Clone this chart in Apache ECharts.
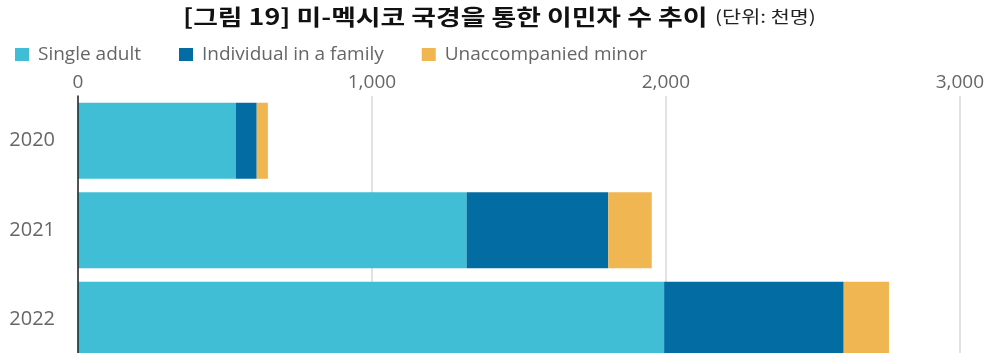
<!DOCTYPE html>
<html>
<head>
<meta charset="utf-8">
<script src="https://cdn.jsdelivr.net/npm/echarts@6/dist/echarts.min.js"></script>
<style>
  html, body { margin: 0; padding: 0; background: #fff; overflow: hidden; }
  /* the plot runs past the bottom edge of the window, so the canvas is taller than the view */
  #chart { width: 987px; height: 372px; }
</style>
</head>
<body>
<div id="chart"></div>
<script>
// Migrant encounters at the US-Mexico border, thousands
const years = ['2020', '2021', '2022'];
const singleAdult = [537, 1322, 1994];
const familyMember = [71, 482, 611];
const unaccompaniedMinor = [38, 148, 154];
const xTicks = [0, 1000, 2000, 3000];
const seriesNames = ['Single adult', 'Individual in a family', 'Unaccompanied minor'];

const chart = echarts.init(document.getElementById('chart'));

const labelFont = '"Open Sans", "Noto Sans", sans-serif';
const krFont = '"Noto Sans CJK KR", sans-serif';

chart.setOption({
  animation: false,
  backgroundColor: '#ffffff',
  graphic: [
    {
      // title, drawn a little wide like the printed figure caption
      type: 'text',
      x: 183,
      y: 6,
      scaleX: 1.22,
      style: {
        text: '{b|[그림 19] 미-멕시코 국경을 통한 이민자 수 추이} {n|(단위: 천명)}',
        rich: {
          b: { fontFamily: krFont, fontWeight: 'bold', fontSize: 22, fill: '#111' },
          n: { fontFamily: krFont, fontWeight: 'normal', fontSize: 17, fill: '#222', padding: [0, 0, 0, 3] }
        }
      }
    }
  ],
  legend: {
    left: 10,
    top: 40,
    itemWidth: 14,
    itemHeight: 13,
    itemGap: 38,
    icon: 'rect',
    textStyle: { fontFamily: labelFont, fontSize: 19, color: '#666', padding: [0, 0, 0, 4] },
    data: seriesNames
  },
  grid: {
    left: 78,
    right: 26,
    top: 96,
    height: 268.5
  },
  xAxis: {
    type: 'value',
    position: 'top',
    min: xTicks[0],
    max: xTicks[xTicks.length - 1],
    interval: 1000,
    axisLine: { show: false },
    axisTick: { show: false },
    splitLine: { show: true, lineStyle: { color: '#d9d9d9', width: 1.5 } },
    axisLabel: {
      margin: 4,
      fontFamily: labelFont,
      fontSize: 19,
      color: '#666',
      formatter: v => v.toLocaleString('en-US')
    }
  },
  yAxis: {
    type: 'category',
    data: years,
    inverse: true,
    z: 5,
    axisLine: { show: true, lineStyle: { color: '#222', width: 1.5 } },
    axisTick: { show: false },
    axisLabel: {
      margin: 23,
      fontFamily: labelFont,
      fontSize: 20,
      color: '#666'
    }
  },
  series: [
    {
      name: seriesNames[0], type: 'bar', stack: 'total',
      barCategoryGap: '15%',
      itemStyle: { color: '#3fbed5' },
      data: singleAdult
    },
    {
      name: seriesNames[1], type: 'bar', stack: 'total',
      itemStyle: { color: '#036ca3' },
      data: familyMember
    },
    {
      name: seriesNames[2], type: 'bar', stack: 'total',
      itemStyle: { color: '#f0b652' },
      data: unaccompaniedMinor
    }
  ]
});
</script>
</body>
</html>
